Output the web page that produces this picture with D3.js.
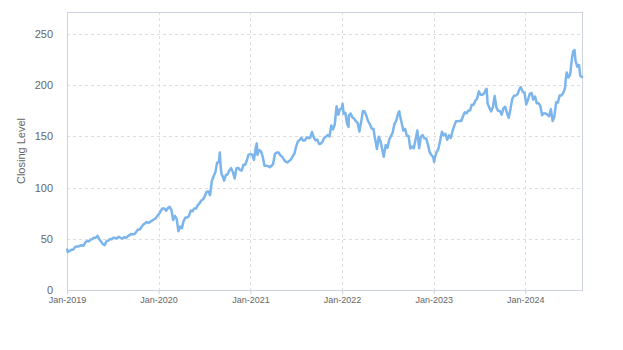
<!DOCTYPE html>
<html>
<head>
<meta charset="utf-8">
<script src="https://cdn.jsdelivr.net/npm/d3@7"></script>
<style>
html,body{margin:0;padding:0;background:#fff;}
svg{display:block;font-family:"Liberation Sans",Arial,sans-serif;}
</style>
</head>
<body>
<svg id="chart" width="623" height="350"></svg>
<script>
const dates = [
"2019-01-02","2019-01-04","2019-01-11","2019-01-18","2019-01-25","2019-02-01","2019-02-08","2019-02-15","2019-02-22","2019-03-01","2019-03-08","2019-03-15","2019-03-22","2019-03-29","2019-04-05","2019-04-12","2019-04-18","2019-04-26","2019-05-03","2019-05-10","2019-05-17","2019-05-24","2019-05-31","2019-06-07","2019-06-14","2019-06-21","2019-06-28","2019-07-05","2019-07-12","2019-07-19","2019-07-26","2019-08-02","2019-08-09","2019-08-16","2019-08-23","2019-08-30","2019-09-06","2019-09-13","2019-09-20","2019-09-27","2019-10-04","2019-10-11","2019-10-18","2019-10-25","2019-11-01","2019-11-08","2019-11-15","2019-11-22","2019-11-29","2019-12-06","2019-12-13","2019-12-20","2019-12-27",
"2020-01-03","2020-01-10","2020-01-17","2020-01-24","2020-01-31","2020-02-07","2020-02-14","2020-02-21","2020-02-28","2020-03-06","2020-03-13","2020-03-20","2020-03-27","2020-04-03","2020-04-09","2020-04-17","2020-04-24","2020-05-01","2020-05-08","2020-05-15","2020-05-22","2020-05-29","2020-06-05","2020-06-12","2020-06-19","2020-06-26","2020-07-02","2020-07-10","2020-07-17","2020-07-24","2020-07-31","2020-08-07","2020-08-14","2020-08-21","2020-08-28","2020-09-01","2020-09-04","2020-09-08","2020-09-11","2020-09-18","2020-09-25","2020-10-02","2020-10-09","2020-10-16","2020-10-23","2020-10-30","2020-11-06","2020-11-13","2020-11-20","2020-11-27","2020-12-04","2020-12-11","2020-12-18","2020-12-24","2020-12-31",
"2021-01-08","2021-01-15","2021-01-22","2021-01-26","2021-01-29","2021-02-05","2021-02-12","2021-02-19","2021-02-26","2021-03-05","2021-03-12","2021-03-19","2021-03-26","2021-04-01","2021-04-09","2021-04-16","2021-04-23","2021-04-30","2021-05-07","2021-05-14","2021-05-21","2021-05-28","2021-06-04","2021-06-11","2021-06-18","2021-06-25","2021-07-02","2021-07-09","2021-07-16","2021-07-23","2021-07-30","2021-08-06","2021-08-13","2021-08-20","2021-08-27","2021-09-03","2021-09-10","2021-09-17","2021-09-24","2021-10-01","2021-10-08","2021-10-15","2021-10-22","2021-10-29","2021-11-05","2021-11-12","2021-11-19","2021-11-26","2021-12-03","2021-12-10","2021-12-17","2021-12-23","2021-12-31",
"2022-01-03","2022-01-07","2022-01-14","2022-01-21","2022-01-27","2022-01-28","2022-02-04","2022-02-11","2022-02-18","2022-02-25","2022-03-04","2022-03-11","2022-03-18","2022-03-25","2022-04-01","2022-04-08","2022-04-14","2022-04-22","2022-04-29","2022-05-06","2022-05-13","2022-05-20","2022-05-27","2022-06-03","2022-06-10","2022-06-16","2022-06-24","2022-07-01","2022-07-08","2022-07-15","2022-07-22","2022-07-29","2022-08-05","2022-08-12","2022-08-17","2022-08-19","2022-08-26","2022-09-02","2022-09-09","2022-09-16","2022-09-23","2022-09-30","2022-10-07","2022-10-14","2022-10-21","2022-10-28","2022-11-04","2022-11-11","2022-11-18","2022-11-25","2022-12-02","2022-12-09","2022-12-16","2022-12-23","2022-12-30",
"2023-01-03","2023-01-06","2023-01-13","2023-01-20","2023-01-27","2023-02-03","2023-02-10","2023-02-17","2023-02-24","2023-03-03","2023-03-10","2023-03-17","2023-03-24","2023-03-31","2023-04-06","2023-04-14","2023-04-21","2023-04-28","2023-05-05","2023-05-12","2023-05-19","2023-05-26","2023-06-02","2023-06-09","2023-06-16","2023-06-23","2023-06-30","2023-07-07","2023-07-14","2023-07-21","2023-07-28","2023-07-31","2023-08-04","2023-08-11","2023-08-18","2023-08-25","2023-09-01","2023-09-08","2023-09-15","2023-09-22","2023-09-29","2023-10-06","2023-10-13","2023-10-20","2023-10-27","2023-11-03","2023-11-10","2023-11-17","2023-11-24","2023-12-01","2023-12-08","2023-12-14","2023-12-22","2023-12-29",
"2024-01-05","2024-01-12","2024-01-19","2024-01-26","2024-02-02","2024-02-09","2024-02-16","2024-02-23","2024-03-01","2024-03-08","2024-03-15","2024-03-22","2024-03-28","2024-04-05","2024-04-12","2024-04-19","2024-04-26","2024-05-03","2024-05-10","2024-05-17","2024-05-24","2024-05-31","2024-06-07","2024-06-11","2024-06-14","2024-06-21","2024-06-28","2024-07-05","2024-07-10","2024-07-15","2024-07-19","2024-07-26","2024-08-02","2024-08-07","2024-08-14"
];
const closes = [
39.5,37.1,38.1,39.2,39.4,41.6,42.6,42.6,43.2,43.7,43.2,46.5,47.8,47.5,49.3,49.7,51.0,51.1,52.9,49.3,47.3,44.7,43.8,47.5,48.2,49.7,49.5,51.0,50.8,50.6,52.0,51.0,50.2,51.6,50.7,52.2,53.3,54.7,54.4,54.7,56.8,59.1,59.1,61.6,64.0,65.0,66.4,65.4,66.8,67.7,68.8,69.9,72.4,
74.4,77.6,79.7,79.6,77.4,80.0,81.2,78.3,68.3,72.3,69.5,57.3,61.9,60.4,67.0,70.7,70.7,72.3,77.5,76.9,79.7,79.5,82.9,84.7,87.4,88.4,91.0,95.9,96.3,92.6,106.3,111.1,114.9,124.4,124.8,134.2,121.0,112.8,112.0,106.8,112.3,113.0,117.0,119.0,115.0,108.9,118.7,119.3,117.3,116.6,122.3,122.4,126.7,132.0,132.7,
132.1,127.1,139.1,143.2,132.0,136.8,135.4,129.9,121.3,121.4,121.0,120.0,121.2,123.0,133.0,134.2,134.3,131.5,130.2,127.5,125.4,124.6,125.9,127.4,130.5,133.1,140.0,145.1,146.4,148.6,145.9,146.1,149.1,148.2,148.6,154.3,149.0,146.1,146.9,142.7,142.9,144.8,148.7,149.8,151.3,150.0,160.6,156.8,161.8,179.5,171.1,176.3,177.6,
182.0,172.2,173.1,162.4,159.2,170.3,172.4,168.6,167.3,164.9,163.2,154.7,164.0,174.7,174.3,170.1,165.3,161.8,157.7,157.3,147.1,137.6,149.6,145.4,137.1,130.1,141.7,138.9,147.0,150.2,154.1,162.5,165.4,172.1,174.6,171.5,163.6,155.8,157.4,150.7,150.4,138.2,140.1,138.4,147.3,155.7,138.4,149.7,151.3,148.1,148.0,142.2,134.5,131.9,129.9,
125.1,129.6,134.8,137.9,145.9,154.5,151.0,152.6,146.7,151.0,148.5,155.0,160.3,164.9,164.7,165.2,165.0,169.7,173.6,172.6,175.2,175.4,181.0,181.0,184.9,186.7,194.0,190.7,190.7,191.9,195.8,196.5,182.0,177.8,174.5,178.6,189.5,178.2,175.0,174.8,171.2,177.5,178.9,172.9,168.2,176.7,186.4,189.7,190.0,191.2,195.7,198.1,193.6,192.5,
181.2,185.9,191.6,192.4,185.9,188.9,182.3,182.5,179.7,170.7,172.6,172.3,171.5,169.6,176.6,165.0,169.3,183.4,183.1,189.9,190.0,192.3,196.9,207.2,212.5,207.5,210.6,226.3,233.0,234.4,224.3,218.0,219.9,209.3,208.0
];
const yTicks = [0, 50, 100, 150, 200, 250];
const xTickLabels = ["Jan-2019","Jan-2020","Jan-2021","Jan-2022","Jan-2023","Jan-2024"];
const xTickDates = ["2019-01-01","2020-01-01","2021-01-01","2022-01-01","2023-01-01","2024-01-01"];
const yLabel = "Closing Level";

const parse = d3.timeParse("%Y-%m-%d");
const data = dates.map((d, i) => ({date: parse(d), value: closes[i]}));

const W = 623, H = 350;
const m = {left: 67, right: 41, top: 12, bottom: 60};
const iw = W - m.left - m.right, ih = H - m.top - m.bottom;

const svg = d3.select("#chart");
const g = svg.append("g").attr("transform", `translate(${m.left},${m.top})`);

const x = d3.scaleTime().domain([parse("2019-01-01"), parse("2024-08-14")]).range([0, iw]);
const y = d3.scaleLinear().domain([0, 271.5]).range([ih, 0]);

const gridColor = "#dedede";
// horizontal grid
g.append("g").selectAll("line").data(yTicks.filter(v => v > 0)).join("line")
  .attr("x1", 0).attr("x2", iw)
  .attr("y1", d => Math.round(y(d)) + 0.5).attr("y2", d => Math.round(y(d)) + 0.5)
  .attr("stroke", gridColor).attr("stroke-dasharray", "3,3").attr("stroke-width", 1);
// vertical grid + tick marks
const xt = xTickDates.map(parse);
g.append("g").selectAll("line").data(xt.slice(1)).join("line")
  .attr("x1", d => Math.round(x(d)) + 0.5).attr("x2", d => Math.round(x(d)) + 0.5)
  .attr("y1", 0).attr("y2", ih)
  .attr("stroke", gridColor).attr("stroke-dasharray", "3,3").attr("stroke-width", 1);

// x axis
const xAxis = d3.axisBottom(x).tickValues(xt).tickFormat((d, i) => xTickLabels[i]).tickSize(4).tickPadding(3);
const xa = g.append("g").attr("transform", `translate(0,${ih})`).call(xAxis);
xa.select(".domain").remove();
xa.selectAll(".tick line").attr("stroke", "#ccd3dc");
xa.selectAll("text").attr("fill", "#666").attr("font-size", 9).attr("font-family", "Liberation Sans, Arial, sans-serif");

// y axis
const yAxis = d3.axisLeft(y).tickValues(yTicks).tickSize(0).tickPadding(14);
const ya = g.append("g").call(yAxis);
ya.select(".domain").remove();
ya.selectAll("text").attr("fill", "#666").attr("font-size", 11).attr("font-family", "Liberation Sans, Arial, sans-serif");

// plot border
g.append("rect").attr("x", 0.5).attr("y", 0.5).attr("width", iw).attr("height", ih)
  .attr("fill", "none").attr("stroke", "#ccd3dc").attr("stroke-width", 1);

// line
const line = d3.line().x(d => x(d.date)).y(d => y(d.value));
g.append("path").datum(data).attr("d", line)
  .attr("fill", "none").attr("stroke", "#7cb5ec").attr("stroke-width", 2.5)
  .attr("stroke-linejoin", "round").attr("stroke-linecap", "round");

// y label
svg.append("text")
  .attr("transform", `translate(25,${m.top + ih / 2}) rotate(-90)`)
  .attr("text-anchor", "middle")
  .attr("fill", "#666").attr("font-size", 11)
  .text(yLabel);
</script>
</body>
</html>
